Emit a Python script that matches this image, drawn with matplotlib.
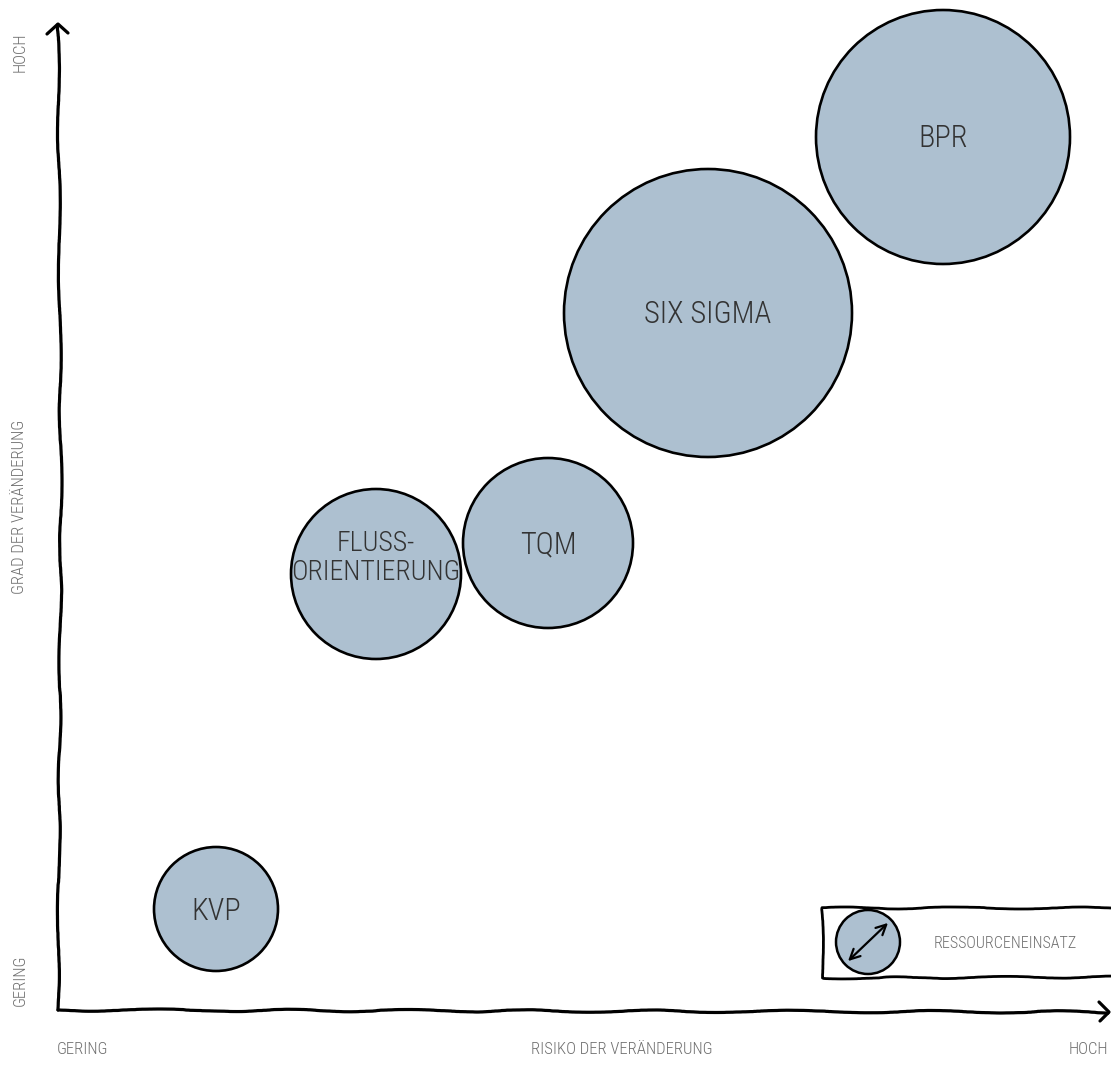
import matplotlib
matplotlib.use("Agg")
import matplotlib.pyplot as plt
from matplotlib.patches import Circle

plt.rcParams['font.family'] = ['Roboto Condensed', 'DejaVu Sans']
plt.rcParams['font.stretch'] = 'condensed'

# ---- data (risk of change, degree of change, resource effort) ----
methods = ["KVP", "FLUSS-\nORIENTIERUNG", "TQM", "SIX SIGMA", "BPR"]
risk = [15.8, 31.8, 49.0, 65.0, 88.5]
degree = [10.1, 43.6, 46.7, 69.7, 87.3]
resources = [6.2, 8.5, 8.5, 14.4, 12.7]

x_title = "RISIKO DER VERÄNDERUNG"
y_title = "GRAD DER VERÄNDERUNG"
low_label = "GERING"
high_label = "HOCH"
legend_label = "RESSOURCENEINSATZ"

fill = "#adc0d0"
text_dark = "#333333"
text_grey = "#707070"

fig = plt.figure(figsize=(11.11, 10.66), dpi=100)
ax = fig.add_axes([0, 0, 1, 1])
ax.set_xlim(-5.8, 105.3)
ax.set_ylim(-5.6, 101.0)
ax.set_aspect('equal')
ax.axis('off')

# bubbles
for m, x, y, r in zip(methods, risk, degree, resources):
    c = Circle((x, y), r, facecolor=fill, edgecolor='black', lw=1.9, zorder=3)
    ax.add_patch(c)
    multi = "\n" in m
    ax.text(x, y + 1.6 if multi else y - 0.2, m, ha='center', va='center',
            fontsize=20 if multi else 22, color=text_dark, zorder=4,
            linespacing=1.05, fontweight='light')

# axes (hand drawn look)
sk = dict(scale=1.2, length=220, randomness=6)
yl, = ax.plot([0, 0.3, 0], [0, 50, 98.5], color='black', lw=2.3, solid_capstyle='round', zorder=2)
yl.set_sketch_params(**sk)
xl, = ax.plot([0, 50, 105.0], [0, -0.1, -0.2], color='black', lw=2.3, solid_capstyle='round', zorder=2)
xl.set_sketch_params(**sk)
# arrow heads
ax.plot([-1.1, 0, 1.0], [97.6, 98.6, 97.7], color='black', lw=2.3,
        solid_capstyle='round', solid_joinstyle='round', zorder=2)
ax.plot([104.1, 105.1, 104.2], [0.8, -0.2, -1.1], color='black', lw=2.3,
        solid_capstyle='round', solid_joinstyle='round', zorder=2)

# axis labels
lab = dict(fontsize=12, color=text_grey, fontweight='light')
ax.text(-3.8, 50.3, y_title, rotation=90, ha='center', va='center', **lab)
ax.text(-3.8, 95.8, high_label, rotation=90, ha='center', va='center', **lab)
ax.text(-3.8, 3.0, low_label, rotation=90, ha='center', va='center', **lab)
ax.text(56.4, -3.9, x_title, ha='center', va='center', **lab)
ax.text(-0.1, -3.9, low_label, ha='left', va='center', **lab)
ax.text(105.0, -3.9, high_label, ha='right', va='center', **lab)

# legend box
box, = ax.plot([106.0, 76.4, 76.5, 106.0], [10.2, 10.2, 3.2, 3.3], color='black', lw=2.0, zorder=2)
box.set_sketch_params(scale=1.0, length=200, randomness=6)
ax.add_patch(Circle((81.0, 6.8), 3.2, facecolor=fill, edgecolor='black', lw=1.8, zorder=3))
ax.annotate('', xy=(83.2, 8.9), xytext=(78.8, 4.7),
            arrowprops=dict(arrowstyle='<->', lw=1.6, color='black', mutation_scale=18), zorder=4)
ax.text(94.7, 6.7, legend_label, ha='center', va='center', fontsize=11.5, color=text_grey,
        fontweight='light')

fig.savefig("out.png", dpi=100, facecolor='white')
